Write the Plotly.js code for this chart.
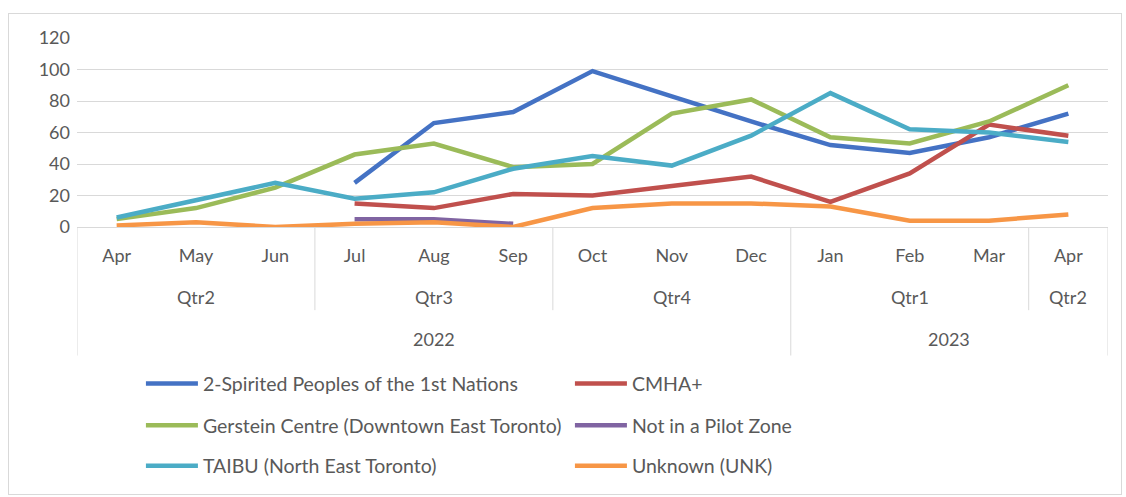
<!DOCTYPE html>
<html>
<head>
<meta charset="utf-8">
<script src="https://cdn.plot.ly/plotly-3.0.1.min.js"></script>
<style>
html,body{margin:0;padding:0;background:#fff;}
#wrap{position:relative;width:1126px;height:497px;}
#frame{position:absolute;left:8px;top:13px;width:1114px;height:482px;border:1px solid #d9d9d9;box-sizing:border-box;pointer-events:none;}
#chart{position:absolute;left:0;top:0;width:1126px;height:497px;}
</style>
</head>
<body>
<div id="wrap"><div id="chart"></div><div id="frame"></div></div>
<script>
const months = ['Apr','May','Jun','Jul','Aug','Sep','Oct','Nov','Dec','Jan','Feb','Mar','Apr'];
const quarters = [['Qtr2',1],['Qtr3',4],['Qtr4',7],['Qtr1',10],['Qtr2',12]];
const years = [['2022',4],['2023',10.5]];
const quarterBreaks = [2.5,5.5,11.5];
const yearBreaks = [-0.5,8.5,12.5];

const twoSpirited = [null,null,null,28,66,73,99,83,67,52,47,57,72];
const cmha        = [null,null,null,15,12,21,20,26,32,16,34,65,58];
const gerstein    = [5,12,25,46,53,38,40,72,81,57,53,67,90];
const notPilot    = [null,null,null,5,5,2,null,null,null,null,null,null,null];
const taibu       = [6,17,28,18,22,37,45,39,58,85,62,60,54];
const unknown     = [1,3,0,2,3,0,12,15,15,13,4,4,8];

const seriesNames = ['2-Spirited Peoples of the 1st Nations','CMHA+','Gerstein Centre (Downtown East Toronto)','Not in a Pilot Zone','TAIBU (North East Toronto)','Unknown (UNK)'];
const seriesData = [twoSpirited,cmha,gerstein,notPilot,taibu,unknown];
const colors = ['#4472C4','#C0504D','#9BBB59','#8064A2','#4BACC6','#F79646'];
const legendIds = ['legend','legend','legend2','legend2','legend3','legend3'];

const xIdx = months.map((m,i)=>i);
const traces = seriesData.map((d,i)=>({
  type:'scatter', mode:'lines', x:xIdx, y:d, name:seriesNames[i],
  line:{color:colors[i], width:4.5}, connectgaps:false, legend:legendIds[i]
}));

const fontFam = 'Lato, "Open Sans", sans-serif';
const txtCol = '#595959';
const lineCol = '#d9d9d9';

const shapes = [];
quarterBreaks.forEach(b=>shapes.push({type:'line',xref:'x',yref:'paper',x0:b,x1:b,y0:0,y1:-0.44,line:{color:lineCol,width:1}}));
yearBreaks.forEach(b=>shapes.push({type:'line',xref:'x',yref:'paper',x0:b,x1:b,y0:0,y1:-0.68,line:{color:lineCol,width:1}}));

const annotations = [];
quarters.forEach(q=>annotations.push({x:q[1],y:-0.37,xref:'x',yref:'paper',yanchor:'middle',text:q[0],showarrow:false,font:{family:fontFam,size:18,color:txtCol}}));
years.forEach(q=>annotations.push({x:q[1],y:-0.59,xref:'x',yref:'paper',yanchor:'middle',text:q[0],showarrow:false,font:{family:fontFam,size:18,color:txtCol}}));

const legBase = {orientation:'h', x:0.062, xanchor:'left', yanchor:'middle', entrywidth:362, itemwidth:52,
  font:{family:fontFam,size:19.5,color:txtCol}, bgcolor:'rgba(0,0,0,0)', traceorder:'normal'};

const layout = {
  width:1126, height:497,
  margin:{l:77,r:18,t:38,b:270,autoexpand:false},
  paper_bgcolor:'#fff', plot_bgcolor:'#fff',
  showlegend:true,
  xaxis:{type:'linear', range:[-0.5,12.5], tickmode:'array', tickvals:xIdx, ticktext:months,
    showgrid:false, zeroline:false, showline:true, linecolor:lineCol, linewidth:1,
    ticks:'', ticklen:0, tickfont:{family:fontFam,size:18,color:txtCol}, fixedrange:true, ticklabelstandoff:12},
  yaxis:{range:[0,120], tickvals:[0,20,40,60,80,100,120], showgrid:true, gridcolor:lineCol, gridwidth:1,
    zeroline:false, showline:false, ticks:'', tickfont:{family:fontFam,size:18,color:txtCol}, ticklabelstandoff:6},
  legend:Object.assign({},legBase,{y:-0.83}),
  legend2:Object.assign({},legBase,{y:-1.05}),
  legend3:Object.assign({},legBase,{y:-1.265}),
  shapes:shapes, annotations:annotations
};

Plotly.newPlot('chart', traces, layout, {displayModeBar:false, staticPlot:true});
</script>
</body>
</html>
